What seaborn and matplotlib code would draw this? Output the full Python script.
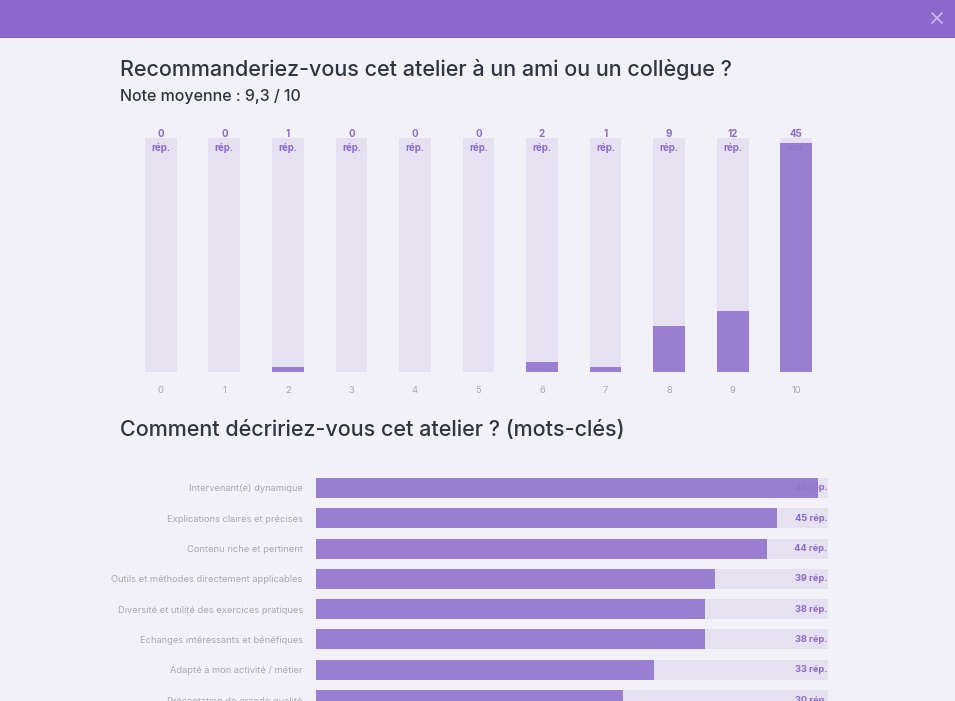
import numpy as np
import pandas as pd
import seaborn as sns
import matplotlib.pyplot as plt
from matplotlib.patches import Rectangle
from matplotlib.lines import Line2D

# data
notes = ["0", "1", "2", "3", "4", "5", "6", "7", "8", "9", "10"]
reponses = [0, 0, 1, 0, 0, 0, 2, 1, 9, 12, 45]
note_max = 46  # height of the light track

mots_cles = ["Intervenant(e) dynamique", "Explications claires et précises",
             "Contenu riche et pertinent", "Outils et méthodes directement applicables",
             "Diversité et utilité des exercices pratiques", "Echanges intéressants et bénéfiques",
             "Adapté à mon activité / métier", "Présentation de grande qualité"]
mots_counts = [49, 45, 44, 39, 38, 38, 33, 30]
mots_max = 50

BG = "#F2F1F7"
PURPLE = "#9577CF"
TRACK = "#E6E1F1"
HEADER = "#8C68CC"
TXT = "#8E6ACD"
DARK = "#2F3541"
GREY = "#A9A9B3"

sns.set_theme(style="white")
plt.rcParams["font.family"] = ["Inter", "DejaVu Sans"]

W, H = 955, 701
fig = plt.figure(figsize=(W / 100, H / 100), dpi=100, facecolor=BG)


def px_axes(x0, y0, x1, y1):
    # axes from pixel box (top-left origin)
    return fig.add_axes([x0 / W, 1 - y1 / H, (x1 - x0) / W, (y1 - y0) / H])


# header band
fig.patches.append(Rectangle((0, 1 - 37 / H), 1, 37 / H, transform=fig.transFigure,
                             facecolor=HEADER, edgecolor="none"))
fig.patches.append(Rectangle((0, 1 - 38 / H), 1, 1.5 / H, transform=fig.transFigure,
                             facecolor="#7F5CC2", edgecolor="none"))
for (a, b) in [((932, 13), (942, 23)), ((932, 23), (942, 13))]:
    fig.add_artist(Line2D([a[0] / W, b[0] / W], [1 - a[1] / H, 1 - b[1] / H],
                          transform=fig.transFigure, color="#CDBDEB", lw=1.2))

fig.text(120 / W, 1 - 70 / H, "Recommanderiez-vous cet atelier à un ami ou un collègue ?",
         fontsize=15.5, color=DARK, va="center", ha="left", fontweight="medium")
fig.text(120 / W, 1 - 97 / H, "Note moyenne : 9,3 / 10",
         fontsize=11.5, color=DARK, va="center", ha="left", fontweight="medium")
fig.text(120 / W, 1 - 430 / H, "Comment décririez-vous cet atelier ? (mots-clés)",
         fontsize=15.5, color=DARK, va="center", ha="left", fontweight="medium")

# vertical chart
ax1 = px_axes(129, 120, 828, 372)
ax1.set_facecolor("none")
sns.barplot(x=notes, y=[note_max] * len(notes), order=notes, color=TRACK, saturation=1,
            width=0.5, ax=ax1, zorder=1, linewidth=0)
sns.barplot(x=notes, y=reponses, order=notes, color=PURPLE, saturation=1,
            width=0.5, ax=ax1, zorder=3, alpha=0.93, linewidth=0)
ax1.set_ylim(0, note_max * 252 / 234)
ax1.set_xlim(-0.5, len(notes) - 0.5)
for i, v in enumerate(reponses):
    ax1.text(i, note_max + 0.8, str(v), ha="center", va="center", fontsize=7,
             color=TXT, fontweight="bold", zorder=2)
    ax1.text(i, note_max - 2.0, "rép.", ha="center", va="center", fontsize=7,
             color=TXT, fontweight="bold", zorder=2)
ax1.set_yticks([])
ax1.tick_params(axis="x", length=0, pad=10, labelsize=6.8, labelcolor=GREY)
ax1.set_xlabel("")
ax1.set_ylabel("")
sns.despine(ax=ax1, left=True, bottom=True)

# horizontal chart
ax2 = px_axes(316, 470, 828, 701)
ax2.set_facecolor("none")
sns.barplot(x=[mots_max] * len(mots_cles), y=mots_cles, order=mots_cles, color=TRACK,
            saturation=1, width=0.66, orient="h", ax=ax2, zorder=1, linewidth=0)
sns.barplot(x=mots_counts, y=mots_cles, order=mots_cles, color=PURPLE,
            saturation=1, width=0.66, orient="h", ax=ax2, zorder=3, alpha=0.93, linewidth=0)
for i, v in enumerate(mots_counts):
    ax2.text(mots_max - 0.05, i, f"{v} rép.", ha="right", va="center", fontsize=6.7,
             color=TXT, fontweight="bold", zorder=2)
ax2.set_xlim(0, mots_max)
ax2.set_ylim(7.03, -0.594)
ax2.set_xticks([])
ax2.tick_params(axis="y", length=0, pad=9.5, labelsize=6.7, labelcolor=GREY)
ax2.set_xlabel("")
ax2.set_ylabel("")
sns.despine(ax=ax2, left=True, bottom=True)

fig.savefig("out.png", dpi=100, facecolor=BG)
